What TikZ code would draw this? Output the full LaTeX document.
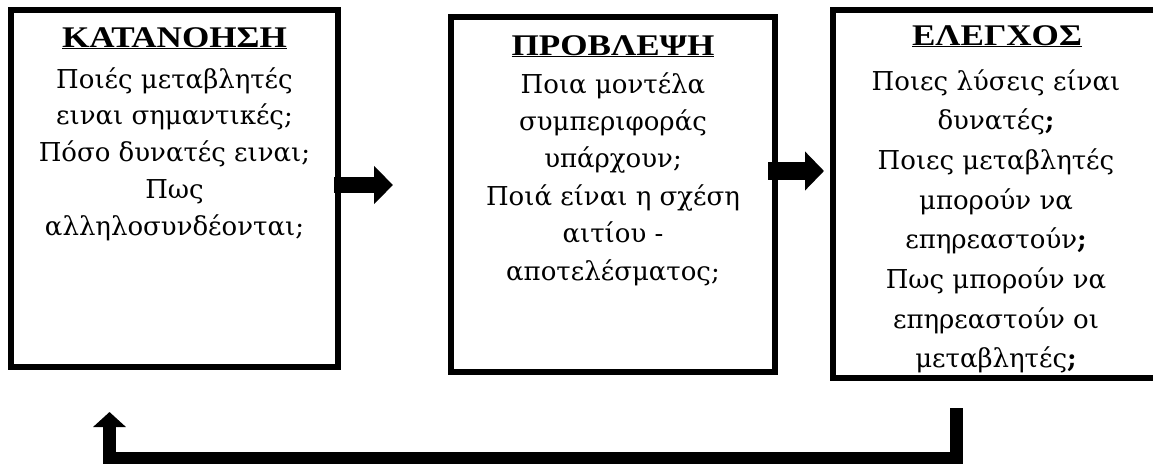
\documentclass[tikz,border=0pt]{standalone}
\usepackage{fontspec}
\setmainfont{Liberation Serif}
\newfontfamily\bodyfont{DejaVu Serif}
\newfontfamily\headfont[FakeStretch=1.17]{Liberation Serif}
\usetikzlibrary{arrows.meta}
\newcommand\stagelines[1]{\setlength{\tabcolsep}{0pt}\begin{tabular}[t]{c}#1\end{tabular}}
\newcommand\qmark{\textbf{;}}
\tikzset{
  stagebox/.style={draw=black, line width=6pt, inner sep=0pt, fill=white},
  heading/.style={anchor=base, inner sep=0pt, font={\headfont\fontsize{30}{36}\selectfont\bfseries}},
  bodytext/.style={anchor=base, inner sep=0pt, font={\bodyfont\fontsize{26}{#1}\selectfont}},
  flow/.style={line width=#1, draw=black},
}
\begin{document}
\begin{tikzpicture}[x=1pt, y=-1pt]
\useasboundingbox (0,0) rectangle (1153,463);
\clip (0,0) rectangle (1153,463);
\fill[white] (0,0) rectangle (1153,463);

% the three stages
\node[stagebox, minimum width=327pt, minimum height=357pt] (b1) at (174.5,188.5) {};
\node[stagebox, minimum width=324pt, minimum height=355pt] (b2) at (613,194.5) {};
\node[stagebox, minimum width=327pt, minimum height=368pt] (b3) at (996.5,194) {};

% headings
\node[heading] (t1) at (174.5,47) {\underline{ΚΑΤΑΝΟΗΣΗ}};
\node[heading] (t2) at (613,55) {\underline{ΠΡΟΒΛΕΨΗ}};
\node[heading] (t3) at (997,45) {\underline{ΕΛΕΓΧΟΣ}};

% questions of each stage
\node[bodytext=36.75pt] (q1) at (174.5,88)
  {\stagelines{Ποιές μεταβλητές\\ειναι σημαντικές;\\Πόσο δυνατές ειναι;\\Πως\\αλληλοσυνδέονται;}};
\node[bodytext=37.4pt] (q2) at (613,93)
  {\stagelines{Ποια μοντέλα\\συμπεριφοράς\\υπάρχουν;\\Ποιά είναι η σχέση\\αιτίου -\\αποτελέσματος;}};
\node[bodytext=39.7pt] (q3) at (996,90)
  {\stagelines{Ποιες λύσεις είναι\\δυνατές\qmark\\Ποιες μεταβλητές\\μπορούν να\\επηρεαστούν\qmark\\Πως μπορούν να\\επηρεαστούν οι\\μεταβλητές\qmark}};

% forward arrows
\coordinate (a1s) at ([xshift=-7pt]b1.east |- 0,185);
\coordinate (a1e) at (393,185);
\draw[flow=16pt, -{Triangle[length=19pt,width=37pt]}] (a1s) -- (a1e);

\coordinate (a2s) at ([xshift=-10pt]b2.east |- 0,171);
\coordinate (a2e) at (824,171);
\draw[flow=18pt, -{Triangle[length=19pt,width=38pt]}] (a2s) -- (a2e);

% feedback loop back to the first stage
\coordinate (fbs) at (956.5,408);
\coordinate (fbe) at (109.5,412);
\draw[flow=13pt, line join=miter, -{Triangle[length=15pt,width=32pt]}]
  (fbs) |- (109.5,458.5) -- (fbe);
\end{tikzpicture}
\end{document}
